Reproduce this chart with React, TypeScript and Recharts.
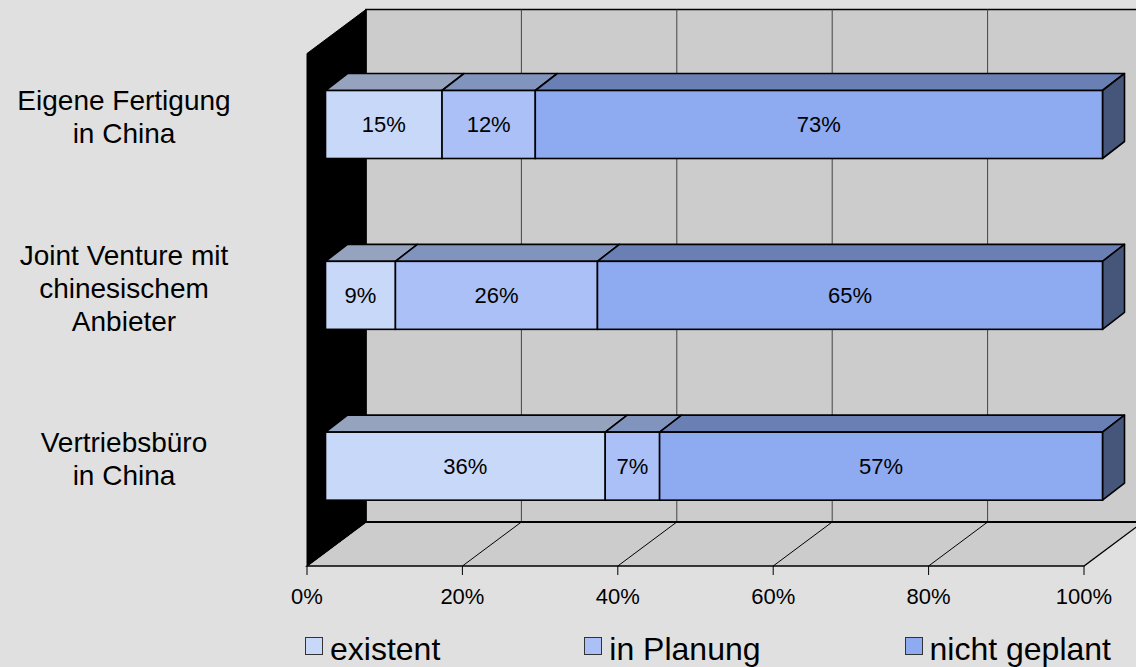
import React from "react";
import { BarChart, Bar, XAxis, YAxis, ReferenceArea, LabelList } from "recharts";

// categories (line breaks as shown on the axis)
const categories = [
  "Eigene Fertigung\nin China",
  "Joint Venture mit\nchinesischem\nAnbieter",
  "Vertriebsbüro\nin China",
];
const existent = [15, 9, 36];
const inPlanung = [12, 26, 7];
const nichtGeplant = [73, 65, 57];
const seriesNames = ["existent", "in Planung", "nicht geplant"];
const xTicks = [0, 20, 40, 60, 80, 100];

const data = categories.map((name, i) => ({
  name,
  existent: existent[i],
  planung: inPlanung[i],
  nicht: nichtGeplant[i],
}));

const series = [
  { key: "existent", front: "#c8d8f8", top: "#96a3be", side: "#5d6a85" },
  { key: "planung", front: "#aac0f6", top: "#8094be", side: "#505f82" },
  { key: "nicht", front: "#8eaaf0", top: "#6a80b5", side: "#46557a" },
];

// 3D offsets relative to the bar plane (= recharts plot area)
const FRONT = { dx: -18.5, dy: 14 };
const BACK = { dx: 40.5, dy: -30 };
const DEPTH = { dx: 22, dy: 17 };

const makeBar = (front: string, top: string, side: string | null) => (props: any) => {
  const { x, y, width, height } = props;
  if (width == null || height == null) return null;
  const { dx, dy } = DEPTH;
  return (
    <g>
      <path
        d={`M${x},${y} L${x + dx},${y - dy} L${x + width + dx},${y - dy} L${x + width},${y} Z`}
        fill={top}
        stroke="#000"
        strokeWidth={1.6}
        strokeLinejoin="round"
      />
      {side && (
        <path
          d={`M${x + width},${y} L${x + width + dx},${y - dy} L${x + width + dx},${y + height - dy} L${x + width},${y + height} Z`}
          fill={side}
          stroke="#000"
          strokeWidth={1.6}
          strokeLinejoin="round"
        />
      )}
      <rect x={x} y={y} width={width} height={height} fill={front} stroke="#000" strokeWidth={1.6} />
    </g>
  );
};

// walls, floor and back grid built from the plot rect
const Walls = (props: any) => {
  const { x, y, width, height } = props;
  const fl = x + FRONT.dx;
  const ft = y + FRONT.dy;
  const fb = y + height + FRONT.dy;
  const fr = x + width + FRONT.dx;
  const bl = x + BACK.dx;
  const bt = y + BACK.dy;
  const bb = y + height + BACK.dy;
  const br = x + width + BACK.dx;
  const inner = xTicks.filter((v) => v > 0 && v < 100);
  return (
    <g>
      <rect x={bl} y={bt} width={br - bl} height={bb - bt} fill="#cccccc" stroke="#000" strokeWidth={1.5} />
      {inner.map((v) => (
        <line
          key={"g" + v}
          x1={bl + (width * v) / 100}
          y1={bt}
          x2={bl + (width * v) / 100}
          y2={bb}
          stroke="#444"
          strokeWidth={1}
        />
      ))}
      <path
        d={`M${fl},${fb} L${bl},${bb} L${br},${bb} L${fr},${fb} Z`}
        fill="#cccccc"
        stroke="#000"
        strokeWidth={1.3}
      />
      <line x1={bl} y1={bb} x2={br} y2={bb} stroke="#000" strokeWidth={2} />
      {inner.map((v) => (
        <line
          key={"f" + v}
          x1={fl + (width * v) / 100}
          y1={fb}
          x2={bl + (width * v) / 100}
          y2={bb}
          stroke="#000"
          strokeWidth={1}
        />
      ))}
      <path d={`M${fl},${ft} L${bl},${bt} L${bl},${bb} L${fl},${fb} Z`} fill="#000" stroke="#000" />
    </g>
  );
};

const XTick = (props: any) => {
  const { x, y, payload } = props;
  const tx = x + FRONT.dx;
  const ty = y + FRONT.dy;
  return (
    <g>
      <line x1={tx} y1={ty} x2={tx} y2={ty + 9} stroke="#000" strokeWidth={1} />
      <text x={tx} y={ty + 38} textAnchor="middle" fontSize={22} fill="#000">
        {payload.value}%
      </text>
    </g>
  );
};

const YTick = (props: any) => {
  const { x, y, payload } = props;
  const lines = String(payload.value).split("\n");
  const cx = x - 201.5;
  const first = y - 8 - ((lines.length - 1) * 33) / 2 + 10;
  return (
    <text textAnchor="middle" fontSize={28} fill="#000">
      {lines.map((l, i) => (
        <tspan key={i} x={cx} y={first + i * 33}>
          {l}
        </tspan>
      ))}
    </text>
  );
};

export default function App() {
  return (
    <div
      style={{
        position: "absolute",
        left: 0,
        top: 0,
        width: 1136,
        height: 667,
        background: "#e0e0e0",
        fontFamily: "'Liberation Sans', Arial, sans-serif",
        overflow: "hidden",
      }}
    >
      <BarChart
        width={1136}
        height={667}
        data={data}
        layout="vertical"
        margin={{ top: 39.5, right: 33.5, left: 0, bottom: 85 }}
        barSize={68}
      >
        <ReferenceArea x1={0} x2={100} shape={Walls} zIndex={-1} ifOverflow="visible" />
        <XAxis
          type="number"
          domain={[0, 100]}
          ticks={xTicks}
          height={30}
          axisLine={false}
          tickLine={false}
          tickSize={0}
          tickMargin={0}
          tick={XTick}
          interval={0}
        />
        <YAxis
          type="category"
          dataKey="name"
          width={325.5}
          axisLine={false}
          tickLine={false}
          tickSize={0}
          tickMargin={0}
          tick={YTick}
          interval={0}
        />
        {series.map((s, i) => (
          <Bar
            key={s.key}
            dataKey={s.key}
            stackId="a"
            isAnimationActive={false}
            shape={makeBar(s.front, s.top, i === series.length - 1 ? s.side : null)}
          >
            <LabelList
              dataKey={s.key}
              position="center"
              formatter={(v: any) => `${v}%`}
              fontSize={22}
              fill="#000"
            />
          </Bar>
        ))}
      </BarChart>
      {/* legend */}
      <div
        style={{
          position: "absolute",
          top: 631,
          left: 0,
          display: "flex",
          alignItems: "flex-start",
          gap: 144,
          paddingLeft: 305,
          fontSize: 32,
          lineHeight: "36px",
          color: "#000",
        }}
      >
        {seriesNames.map((n, i) => (
          <div key={n} style={{ display: "flex", alignItems: "flex-start" }}>
            <span
              style={{
                display: "inline-block",
                width: 16,
                height: 16,
                marginTop: 6,
                marginRight: 7,
                background: series[i].front,
                border: "1.5px solid #333",
              }}
            />
            <span>{n}</span>
          </div>
        ))}
      </div>
    </div>
  );
}
